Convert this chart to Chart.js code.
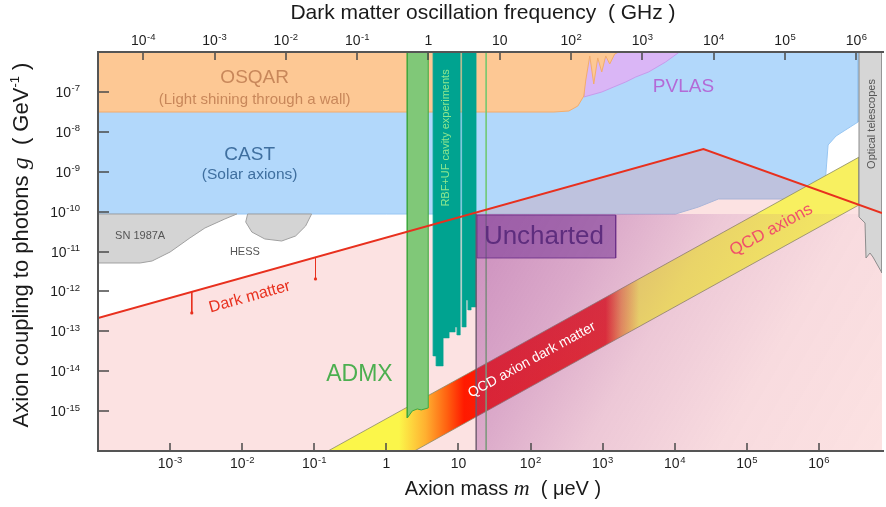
<!DOCTYPE html>
<html><head><meta charset="utf-8">
<script src="https://cdn.jsdelivr.net/npm/chart.js@4.4.1/dist/chart.umd.min.js"></script>
<style>html,body{margin:0;padding:0;background:#fff;}#c{display:block;}</style>
</head><body>
<canvas id="c" width="886" height="507"></canvas>
<script>
// ---------- DATA (axion mass m in μeV, coupling g in GeV^-1) ----------
const massTicks = [1e-3,1e-2,1e-1,1,10,1e2,1e3,1e4,1e5,1e6];
const massTickLabels = ['10^-3','10^-2','10^-1','1','10','10^2','10^3','10^4','10^5','10^6'];
const freqTicks = [1e-4,1e-3,1e-2,1e-1,1,10,1e2,1e3,1e4,1e5,1e6];
const freqTickLabels = ['10^-4','10^-3','10^-2','10^-1','1','10','10^2','10^3','10^4','10^5','10^6'];
const couplingTicks = [1e-7,1e-8,1e-9,1e-10,1e-11,1e-12,1e-13,1e-14,1e-15];
const couplingTickLabels = ['10^-7','10^-8','10^-9','10^-10','10^-11','10^-12','10^-13','10^-14','10^-15'];

const castM  = [1e-4, 3.49e6, 3.49e6, 1.73e6, 1.34e6, 1.26e6, 1.18e6, 4.04e4, 2.13e4, 1.03e4, 1e-4, 1e-4];
const castG  = [1e-6, 1e-6, 1.76e-8, 7.85e-9, 4.67e-9, 1.10e-9, 2.07e-10, 2.07e-10, 1.30e-10, 8.7e-11, 8.7e-11, 1e-6];
const osqarM = [1e-4, 1e-4, 211, 340, 453, 548, 584, 663, 753, 855, 972, 1104, 1254, 1469, 1670, 1e-4];
const osqarG = [1e-6, 3.13e-8, 3.13e-8, 3.32e-8, 4.44e-8, 7.89e-8, 1.99e-7, 7.94e-7, 1.58e-7, 7.08e-7, 3.16e-7, 7.94e-7, 5.0e-7, 8.9e-7, 1e-6, 1e-6];
const pvlasM = [548, 972, 1425, 2088, 2871, 4345, 7464, 1.16e4, 548, 548];
const pvlasG = [7.45e-8, 9.93e-8, 1.33e-7, 1.77e-7, 2.36e-7, 3.16e-7, 5.61e-7, 1e-6, 1e-6, 7.45e-8];
const snM    = [1e-4, 8.42e-3, 5.74e-3, 3.04e-3, 1.88e-3, 1e-3, 5.63e-4, 3.84e-4, 1e-4, 1e-4];
const snG    = [8.7e-11, 8.7e-11, 6.53e-11, 3.88e-11, 2.18e-11, 9.7e-12, 5.78e-12, 5.15e-12, 5.15e-12, 8.7e-11];
const hessM  = [1.19e-2, 1.12e-2, 1.36e-2, 2.06e-2, 3.53e-2, 5.51e-2, 7.58e-2, 9.18e-2, 1.19e-2];
const hessG  = [8.7e-11, 5.48e-11, 3.08e-11, 2.06e-11, 1.83e-11, 2.45e-11, 4.35e-11, 8.7e-11, 8.7e-11];
const dmM    = [1e-4, 2.5e4, 7.5e6];
const dmG    = [2.14e-13, 3.7e-9, 9.2e-11];
const dmArrowM    = [2.0e-3, 0.104];
const dmArrowTopG = [9.8e-13, 7.18e-12];
const dmArrowTipG = [2.88e-13, 2.05e-12];
const qcdM   = [0.155, 3.6e6, 3.6e6, 2.45, 0.155];
const qcdG   = [1e-16, 2.32e-9, 1.47e-10, 1e-16, 1e-16];
const admxM  = [1.95, 1.95, 2.29, 2.68, 3.05, 3.81, 3.81, 1.95];
const admxG  = [1e-6, 6.71e-16, 1.01e-15, 1.13e-15, 1.07e-15, 1.20e-15, 1e-6, 1e-6];
const rbfAM  = [4.47, 4.47, 4.92, 4.92, 6.14, 6.14, 7.43, 7.43, 9.00, 9.00, 9.59, 9.59, 10.6, 10.6, 4.47];
const rbfAG  = [1e-6, 2.40e-14, 2.40e-14, 1.35e-14, 1.35e-14, 6.79e-14, 6.79e-14, 9.59e-14, 9.59e-14, 1.28e-13, 1.28e-13, 8.07e-14, 8.07e-14, 1e-6, 1e-6];
const rbfBM  = [11.3, 11.3, 12.8, 12.8, 13.6, 13.6, 15.0, 15.0, 17.6, 17.6, 11.3];
const rbfBG  = [1e-6, 1.28e-13, 1.28e-13, 6.08e-13, 6.08e-13, 3.42e-13, 3.42e-13, 4.06e-13, 4.06e-13, 1e-6, 1e-6];
const unchM  = [17.6, 7.5e6, 7.5e6, 17.6, 17.6];
const unchG  = [8.7e-11, 8.7e-11, 1e-16, 1e-16, 8.7e-11];
const boxM   = [18.1, 1517, 1517, 18.1, 18.1];
const boxG   = [8.2e-11, 8.2e-11, 6.87e-12, 6.87e-12, 8.2e-11];
const greenLineM = [24.2, 24.2];
const greenLineG = [1e-6, 1e-16];
const unchEdgeM  = [17.6, 17.6];
const unchEdgeG  = [8.7e-11, 1e-16];
const optM   = [3.6e6, 7.5e6, 7.5e6, 5.62e6, 5.11e6, 4.5e6, 4.36e6, 3.6e6, 3.6e6];
const optG   = [1e-6, 1e-6, 2.89e-12, 7.28e-12, 9.16e-12, 6.87e-12, 5.18e-11, 7.33e-11, 1e-6];

// ---------- styles ----------
const FONT = '"Liberation Sans", Arial, Helvetica, sans-serif';
const bandStopM     = [1.5, 3.5, 7, 12, 1100, 1800, 3200];
const bandStopColor = ['#fbf64a', '#ffb030', '#ff6010', '#ff1a00', '#ec2c24', '#f19a52', '#f8f060'];

const notes = [
  {t:'OSQAR', m:1.49e-2, g:2.23e-7, size:19, color:'#c8875a'},
  {t:'(Light shining through a wall)', m:1.49e-2, g:6.26e-8, size:15, color:'#c8875a'},
  {t:'CAST', m:1.27e-2, g:2.62e-9, size:19, color:'#3f6f9f'},
  {t:'(Solar axions)', m:1.27e-2, g:8.26e-10, size:15.5, color:'#3f6f9f'},
  {t:'PVLAS', m:1.32e4, g:1.33e-7, size:19, color:'#b36ad6'},
  {t:'SN 1987A', m:3.84e-4, g:2.44e-11, size:11, color:'#555'},
  {t:'HESS', m:1.09e-2, g:9.7e-12, size:11, color:'#555'},
  {t:'Dark matter', m:1.27e-2, g:7.25e-13, size:16, color:'#e8301e', rot:-15.5},
  {t:'ADMX', m:0.423, g:8.03e-15, size:23, color:'#4caf50'},
  {t:'RBF+UF cavity experiments', m:6.76, g:7.0e-9, size:11, color:'#8ee88e', rot:-90},
  {t:'Uncharted', m:153, g:2.31e-11, size:26, color:'#5e2d7e'},
  {t:'QCD axions', m:2.18e5, g:3.46e-11, size:17, color:'#f0506a', rot:-28.7},
  {t:'QCD axion dark matter', m:104.5, g:1.91e-14, size:14, color:'#ffffff', rot:-28.7},
  {t:'Optical telescopes', m:5.44e6, g:1.57e-8, size:11, color:'#555', rot:-90}
];

const pts = (M, G) => M.map((m, i) => ({x: m, y: G[i]}));
function poly(label, M, G, bg, border, bw, order, extra) {
  return Object.assign({label, data: pts(M, G), backgroundColor: bg,
    borderColor: border || 'rgba(0,0,0,0)', borderWidth: bw || 0, fill: 'shape',
    pointRadius: 0, tension: 0, order}, extra || {});
}
function bandFill(c) {
  const ch = c.chart, xs = ch.scales && ch.scales.x;
  if (!ch.chartArea || !xs) return '#faf84a';
  const g = ch.ctx.createLinearGradient(xs.left, 0, xs.right, 0);
  bandStopM.forEach((m, i) => {
    const t = (xs.getPixelForValue(m) - xs.left) / (xs.right - xs.left);
    g.addColorStop(Math.min(1, Math.max(0, t)), bandStopColor[i]);
  });
  return g;
}
function unchartedFill(c) {
  const ch = c.chart, xs = ch.scales && ch.scales.x, ys = ch.scales && ch.scales.y;
  if (!ch.chartArea || !xs) return 'rgba(150,50,150,0.25)';
  const x0 = xs.getPixelForValue(unchM[0]), y0 = ys.getPixelForValue(unchG[0]);
  const g = ch.ctx.createLinearGradient(x0, y0, xs.right, ys.bottom);
  g.addColorStop(0, 'rgba(150,50,150,0.48)');
  g.addColorStop(0.25, 'rgba(150,50,150,0.32)');
  g.addColorStop(0.45, 'rgba(150,50,150,0.15)');
  g.addColorStop(0.7, 'rgba(150,50,150,0.04)');
  g.addColorStop(1, 'rgba(150,50,150,0.0)');
  return g;
}

const datasets = [
  poly('CAST', castM, castG, '#b2d8fb', '#98c6f2', 1, 30),
  poly('PVLAS', pvlasM, pvlasG, '#dab6f6', '#c79bec', 1, 29),
  poly('OSQAR', osqarM, osqarG, '#fdc894', '#f3ad6c', 1, 28),
  poly('SN 1987A', snM, snG, '#d4d4d4', '#a0a0a0', 1, 27),
  poly('HESS', hessM, hessG, '#d4d4d4', '#a0a0a0', 1, 26),
  {label:'Dark matter region', data: pts(dmM, dmG), backgroundColor:'rgba(240,110,110,0.2)', borderWidth:0, borderColor:'rgba(0,0,0,0)', fill:'start', pointRadius:0, order:25},
  poly('QCD axions', qcdM, qcdG, bandFill, '#8a8a6a', 0.8, 24),
  poly('ADMX', admxM, admxG, '#80c878', '#3fa83f', 1, 23),
  poly('RBF+UF A', rbfAM, rbfAG, '#00a390', '#00a390', 0.5, 22),
  poly('RBF+UF B', rbfBM, rbfBG, '#00a390', '#00a390', 0.5, 22),
  {label:'green line', data: pts(greenLineM, greenLineG), borderColor:'rgba(110,200,110,0.8)', borderWidth:1, fill:false, pointRadius:0, order:21},
  poly('Uncharted region', unchM, unchG, unchartedFill, 'rgba(0,0,0,0)', 0, 20),
  {label:'uncharted edge', data: pts(unchEdgeM, unchEdgeG), borderColor:'rgba(110,90,110,0.7)', borderWidth:1, fill:false, pointRadius:0, order:19},
  poly('Uncharted box', boxM, boxG, 'rgba(118,52,150,0.55)', 'rgba(105,45,135,0.8)', 1, 18),
  poly('Optical telescopes', optM, optG, '#d6d6d6', '#8c8c8c', 1, 17),
  {label:'Dark matter', data: pts(dmM, dmG), borderColor:'#e8301e', borderWidth:2, fill:false, pointRadius:0, order:2},
  {label:'arrow1', data: [{x:dmArrowM[0], y:dmArrowTopG[0]}, {x:dmArrowM[0], y:dmArrowTipG[0]}], borderColor:'#e8301e', borderWidth:1, fill:false, pointRadius:[0,1.6], pointBackgroundColor:'#e8301e', pointBorderWidth:0, order:1},
  {label:'arrow2', data: [{x:dmArrowM[1], y:dmArrowTopG[1]}, {x:dmArrowM[1], y:dmArrowTipG[1]}], borderColor:'#e8301e', borderWidth:1, fill:false, pointRadius:[0,1.6], pointBackgroundColor:'#e8301e', pointBorderWidth:0, order:1}
];

function drawRich(ctx, parts, x, y, rot) {
  ctx.save();
  ctx.translate(x, y);
  ctx.rotate(rot || 0);
  let total = 0;
  parts.forEach(p => { ctx.font = p.f; total += ctx.measureText(p.t).width; });
  let cx = -total / 2;
  ctx.textAlign = 'left';
  ctx.textBaseline = 'alphabetic';
  parts.forEach(p => { ctx.font = p.f; ctx.fillText(p.t, cx, p.dy || 0); cx += ctx.measureText(p.t).width; });
  ctx.restore();
}
// tick label "10^-3" -> "10" with raised exponent; align: 'center' | 'right'
function drawPow(ctx, label, x, y, align) {
  const [base, exp] = label.split('^');
  const fb = '14px ' + FONT, fe = '9.5px ' + FONT;
  ctx.font = fb; const wb = ctx.measureText(base).width;
  ctx.font = fe; const we = exp ? ctx.measureText(exp).width + 0.5 : 0;
  const w = wb + we;
  const x0 = align === 'right' ? x - w : x - w / 2;
  ctx.textAlign = 'left';
  ctx.textBaseline = 'alphabetic';
  ctx.font = fb; ctx.fillText(base, x0, y + 5);
  if (exp) { ctx.font = fe; ctx.fillText(exp, x0 + wb + 0.5, y - 0.5); }
}

const decorPlugin = {
  id: 'decor',
  afterDatasetsDraw(chart) {
    const {ctx, chartArea: a, scales} = chart;
    ctx.save();
    // inward ticks
    ctx.strokeStyle = '#4a4a4a';
    ctx.lineWidth = 1.5;
    ctx.beginPath();
    scales.x.ticks.forEach(t => { const p = Math.round(scales.x.getPixelForValue(t.value)); ctx.moveTo(p, a.bottom); ctx.lineTo(p, a.bottom - 8); });
    scales.x2.ticks.forEach(t => { const p = Math.round(scales.x2.getPixelForValue(t.value)); ctx.moveTo(p, a.top); ctx.lineTo(p, a.top + 8); });
    scales.y.ticks.forEach(t => { const p = Math.round(scales.y.getPixelForValue(t.value)); ctx.moveTo(a.left, p); ctx.lineTo(a.left + 11, p); });
    ctx.stroke();
    // frame (left, top, bottom)
    ctx.strokeStyle = '#555';
    ctx.lineWidth = 2;
    ctx.beginPath();
    ctx.moveTo(a.right + 2, a.top); ctx.lineTo(a.left, a.top); ctx.lineTo(a.left, a.bottom); ctx.lineTo(a.right + 2, a.bottom);
    ctx.stroke();
    // tick labels
    ctx.fillStyle = '#1e1e1e';
    scales.x.ticks.forEach((t, i) => drawPow(ctx, massTickLabels[i], scales.x.getPixelForValue(t.value), a.bottom + 12, 'center'));
    scales.x2.ticks.forEach((t, i) => drawPow(ctx, freqTickLabels[i], scales.x2.getPixelForValue(t.value), a.top - 12, 'center'));
    scales.y.ticks.forEach((t, i) => drawPow(ctx, couplingTickLabels[i], a.left - 18, scales.y.getPixelForValue(t.value), 'right'));
    // annotations
    notes.forEach(n => {
      const px = scales.x.getPixelForValue(n.m), py = scales.y.getPixelForValue(n.g);
      ctx.save();
      ctx.translate(px, py);
      ctx.rotate((n.rot || 0) * Math.PI / 180);
      ctx.font = n.size + 'px ' + FONT;
      ctx.fillStyle = n.color;
      ctx.textAlign = 'center';
      ctx.textBaseline = 'middle';
      ctx.fillText(n.t, 0, 0);
      ctx.restore();
    });
    ctx.restore();
  },
  afterDraw(chart) {
    const ctx = chart.ctx;
    ctx.save();
    ctx.fillStyle = '#1a1a1a';
    const f = s => s + 'px ' + FONT;
    drawRich(ctx, [{t:'Dark matter oscillation frequency  ( GHz )', f:f(21)}], 483, 19, 0);
    drawRich(ctx, [{t:'Axion mass ', f:f(20)}, {t:'m', f:'italic 22px "Liberation Serif", serif'}, {t:'  ( μeV )', f:f(20)}], 503, 495, 0);
    drawRich(ctx, [{t:'Axion coupling to photons ', f:f(22)}, {t:'g', f:'italic 24px "Liberation Serif", serif'}, {t:'  ( GeV', f:f(22)}, {t:'-1', f:f(13), dy:-9}, {t:' )', f:f(22)}], 28, 245, -Math.PI / 2);
    ctx.restore();
  }
};

const hiddenTicks = {display: false};
new Chart(document.getElementById('c'), {
  type: 'line',
  data: {datasets},
  options: {
    responsive: false,
    animation: false,
    events: [],
    layout: {padding: {left: 0, right: 2, top: 0, bottom: 0}},
    plugins: {legend: {display: false}, tooltip: {enabled: false}},
    elements: {line: {tension: 0}},
    scales: {
      x: {
        type: 'logarithmic', position: 'bottom', min: 1e-4, max: 7.5e6,
        grid: {display: false}, border: {display: false}, ticks: hiddenTicks,
        afterBuildTicks: s => { s.ticks = massTicks.map(v => ({value: v})); },
        afterFit: s => { s.height = 56; }
      },
      x2: {
        type: 'logarithmic', position: 'top', min: 2.32e-5, max: 2.29e6,
        grid: {display: false}, border: {display: false}, ticks: hiddenTicks,
        afterBuildTicks: s => { s.ticks = freqTicks.map(v => ({value: v})); },
        afterFit: s => { s.height = 52; }
      },
      y: {
        type: 'logarithmic', position: 'left', min: 1e-16, max: 1e-6,
        grid: {display: false}, border: {display: false}, ticks: hiddenTicks,
        afterBuildTicks: s => { s.ticks = couplingTicks.map(v => ({value: v})); },
        afterFit: s => { s.width = 98; }
      }
    }
  },
  plugins: [decorPlugin]
});
</script>
</body></html>
